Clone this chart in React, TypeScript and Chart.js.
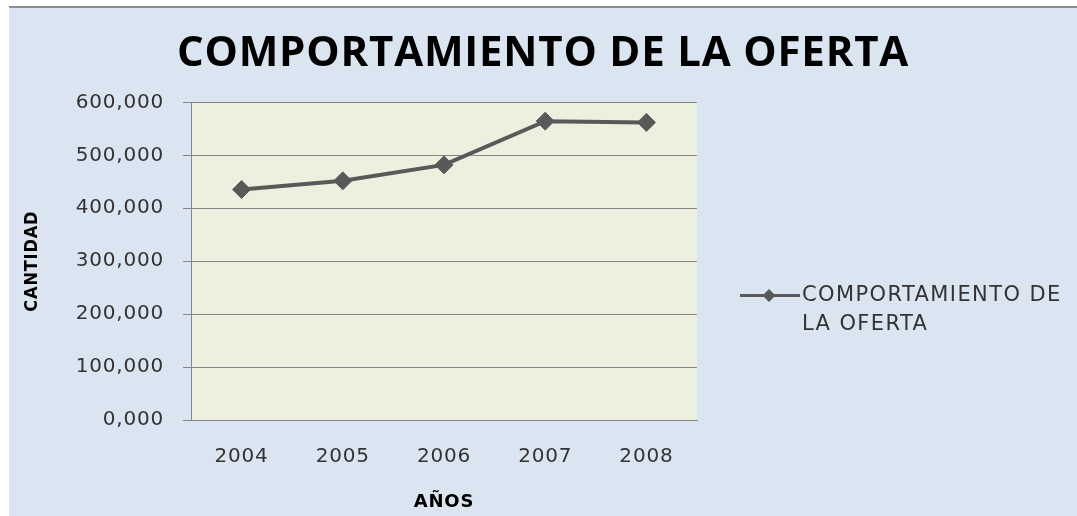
import React, { useEffect, useRef } from "react";
import { Chart, registerables } from "chart.js";

Chart.register(...registerables);

const years = ["2004", "2005", "2006", "2007", "2008"];
const oferta = [435.5, 451.8, 482.0, 564.6, 562.2];
const yTickValues = [0, 100, 200, 300, 400, 500, 600];
const chartTitle = "COMPORTAMIENTO DE LA OFERTA";
const seriesLabel = "COMPORTAMIENTO DE LA OFERTA";
const legendLines = ["COMPORTAMIENTO DE", "LA OFERTA"];
const xTitle = "AÑOS";
const yTitle = "CANTIDAD";

const LINE = "#595959";
const GRID = "#868686";
const TEXT = "#333333";

const plotBg = {
  id: "plotBg",
  beforeDraw(chart: any) {
    const { ctx, chartArea } = chart;
    ctx.letterSpacing = "0.8px";
    ctx.save();
    ctx.fillStyle = "#ebf1de";
    ctx.fillRect(chartArea.left, chartArea.top, chartArea.right - chartArea.left, chartArea.bottom - chartArea.top);
    ctx.restore();
  },
};

const sideLegend = {
  id: "sideLegend",
  afterDraw(chart: any) {
    const { ctx, chartArea } = chart;
    const x0 = chartArea.right + 43;
    const y0 = chartArea.top + 193;
    ctx.save();
    ctx.strokeStyle = LINE;
    ctx.lineWidth = 3;
    ctx.beginPath();
    ctx.moveTo(x0, y0);
    ctx.lineTo(x0 + 60, y0);
    ctx.stroke();
    const cx = x0 + 29;
    const r = 6.5;
    ctx.fillStyle = LINE;
    ctx.beginPath();
    ctx.moveTo(cx, y0 - r);
    ctx.lineTo(cx + r, y0);
    ctx.lineTo(cx, y0 + r);
    ctx.lineTo(cx - r, y0);
    ctx.closePath();
    ctx.fill();
    ctx.fillStyle = TEXT;
    ctx.font = "21px 'DejaVu Sans'";
    ctx.letterSpacing = "1.4px";
    ctx.textBaseline = "middle";
    ctx.textAlign = "left";
    legendLines.forEach((t, i) => ctx.fillText(t, x0 + 62, y0 + i * 29.5));
    ctx.restore();
    ctx.letterSpacing = "0px";
  },
};

export default function App() {
  const ref = useRef<HTMLCanvasElement | null>(null);

  useEffect(() => {
    if (!ref.current) return;
    const chart = new Chart(ref.current, {
      type: "line",
      data: {
        labels: years,
        datasets: [
          {
            label: seriesLabel,
            data: oferta,
            borderColor: LINE,
            backgroundColor: LINE,
            borderWidth: 4,
            pointStyle: "rectRot",
            pointRadius: 9,
            pointBorderWidth: 1,
            pointBackgroundColor: LINE,
            pointBorderColor: LINE,
            tension: 0,
            yAxisID: "y",
          },
        ],
      },
      options: {
        animation: false,
        responsive: false,
        events: [],
        layout: { padding: 0 },
        plugins: {
          legend: { display: false },
          tooltip: { enabled: false },
          title: {
            display: true,
            text: chartTitle,
            color: "#000000",
            font: { family: "'Open Sans'", size: 42, weight: "bold", lineHeight: 1.2 },
            padding: { top: 21, bottom: 23 },
          },
        },
        scales: {
          x: {
            offset: true,
            grid: { display: false, drawTicks: false },
            border: { display: true, color: GRID, width: 1 },
            ticks: {
              color: TEXT,
              padding: 25,
              font: { family: "'DejaVu Sans'", size: 20, lineHeight: 1.2 },
            },
            title: {
              display: true,
              text: xTitle,
              color: "#000000",
              font: { family: "'DejaVu Sans'", size: 18, weight: "bold", lineHeight: 1.2 },
              padding: { top: 0, bottom: 3 },
            },
            afterFit: (s: any) => {
              s.height = 96;
            },
          },
          y: {
            min: 0,
            max: 600,
            afterBuildTicks: (s: any) => {
              s.ticks = yTickValues.map((v) => ({ value: v }));
            },
            grid: { color: GRID, lineWidth: 1, drawTicks: true, tickLength: 8, tickColor: GRID },
            border: { display: true, color: GRID, width: 1 },
            ticks: {
              color: TEXT,
              padding: 19,
              font: { family: "'DejaVu Sans'", size: 20, lineHeight: 1.2 },
              callback: (v: any) => Number(v).toFixed(3).replace(".", ","),
            },
            title: {
              display: true,
              text: yTitle,
              color: "#000000",
              font: { family: "'DejaVu Sans Condensed', 'DejaVu Sans'", size: 18, weight: "bold", lineHeight: 1.2 },
              padding: { top: 13, bottom: 0 },
            },
            afterFit: (s: any) => {
              s.width = 182;
            },
          },
          y2: {
            position: "right",
            display: true,
            min: 0,
            max: 1,
            grid: { display: false, drawTicks: false },
            border: { display: false },
            ticks: { display: false },
            afterFit: (s: any) => {
              s.width = 380;
            },
          },
        },
      },
      plugins: [plotBg, sideLegend],
    } as any);
    return () => chart.destroy();
  }, []);

  return (
    <div style={{ position: "fixed", left: 0, top: 0, width: 1077, height: 516, background: "#ffffff" }}>
      <div
        style={{
          position: "absolute",
          left: 9,
          top: 6,
          width: 1068,
          height: 510,
          borderTop: "2px solid #8c8c8c",
          background: "#dbe5f1",
          boxSizing: "border-box",
        }}
      >
        <canvas ref={ref} width={1068} height={508} style={{ display: "block", width: 1068, height: 508 }} />
      </div>
    </div>
  );
}
